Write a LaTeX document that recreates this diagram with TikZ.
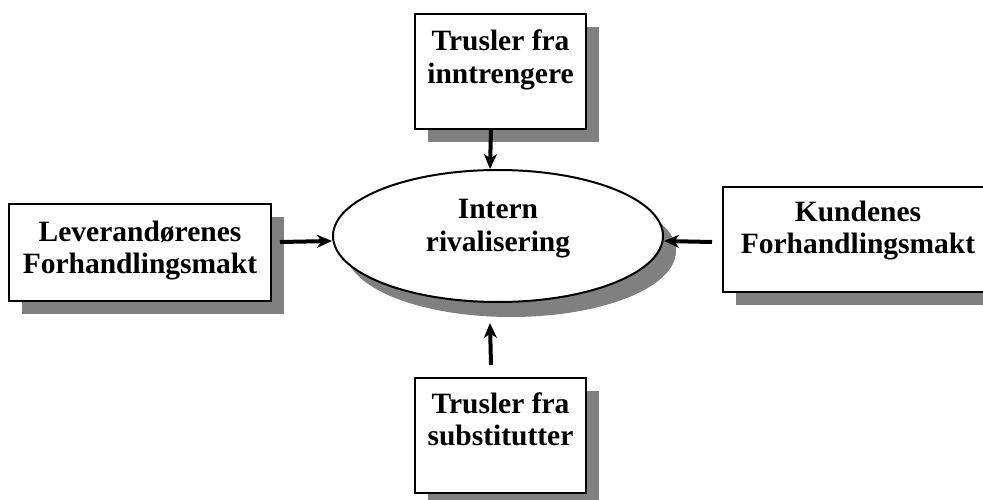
\documentclass[tikz,border=0pt]{standalone}
\usepackage{fontspec}
\setmainfont{Liberation Serif}
\usetikzlibrary{arrows.meta,shapes.geometric,shadows}

\begin{document}
\begin{tikzpicture}[x=1pt,y=1pt,>={Stealth[length=15pt,width=13pt,inset=4.5pt]},
  font=\fontsize{29.5}{32.5}\selectfont\bfseries,
  boks/.style={draw,line width=2pt,fill=white,align=center,inner sep=0pt,anchor=north west,
    drop shadow={shadow xshift=13pt,shadow yshift=-13pt,fill=black!50,opacity=1}},
  sirkel/.style={draw,ellipse,line width=2pt,fill=white,align=center,inner sep=0pt,
    drop shadow={shadow xshift=13pt,shadow yshift=-15pt,fill=black!50,opacity=1}},
  pil/.style={->,line width=4pt}]
\useasboundingbox (0,0) rectangle (983,499);
\clip (0,0) rectangle (983,499);
\node[sirkel,minimum width=330pt,minimum height=132pt,text height=54.5pt,text depth=23.5pt] (rival) at (498,263) {Intern\\rivalisering};
\node[boks,minimum width=171pt,text height=69.5pt,text depth=45.5pt] (inntr) at (414,486) {Trusler fra\\inntrengere};
\node[boks,minimum width=262pt,text height=69.5pt,text depth=27.5pt] (lev) at (8,296) {Leverandørenes\\Forhandlingsmakt};
\node[boks,minimum width=270pt,text height=66.5pt,text depth=38.5pt] (kund) at (722,313) {Kundenes\\Forhandlingsmakt};
\node[boks,minimum width=171pt,text height=67.5pt,text depth=47.5pt] (subst) at (414,122) {Trusler fra\\substitutter};
\draw[pil] ([xshift=-9.5pt]inntr.south) -- ([xshift=-8pt]rival.north);
\draw[pil] ([shift={(8pt,10.5pt)}]lev.east) -- ([yshift=-5pt]rival.west);
\draw[pil] ([shift={(-10pt,-2.5pt)}]kund.west) -- ([yshift=-5pt]rival.east);
\draw[pil] ([shift={(-9.5pt,12pt)}]subst.north) -- ([shift={(-8pt,-20pt)}]rival.south);
\end{tikzpicture}
\end{document}
